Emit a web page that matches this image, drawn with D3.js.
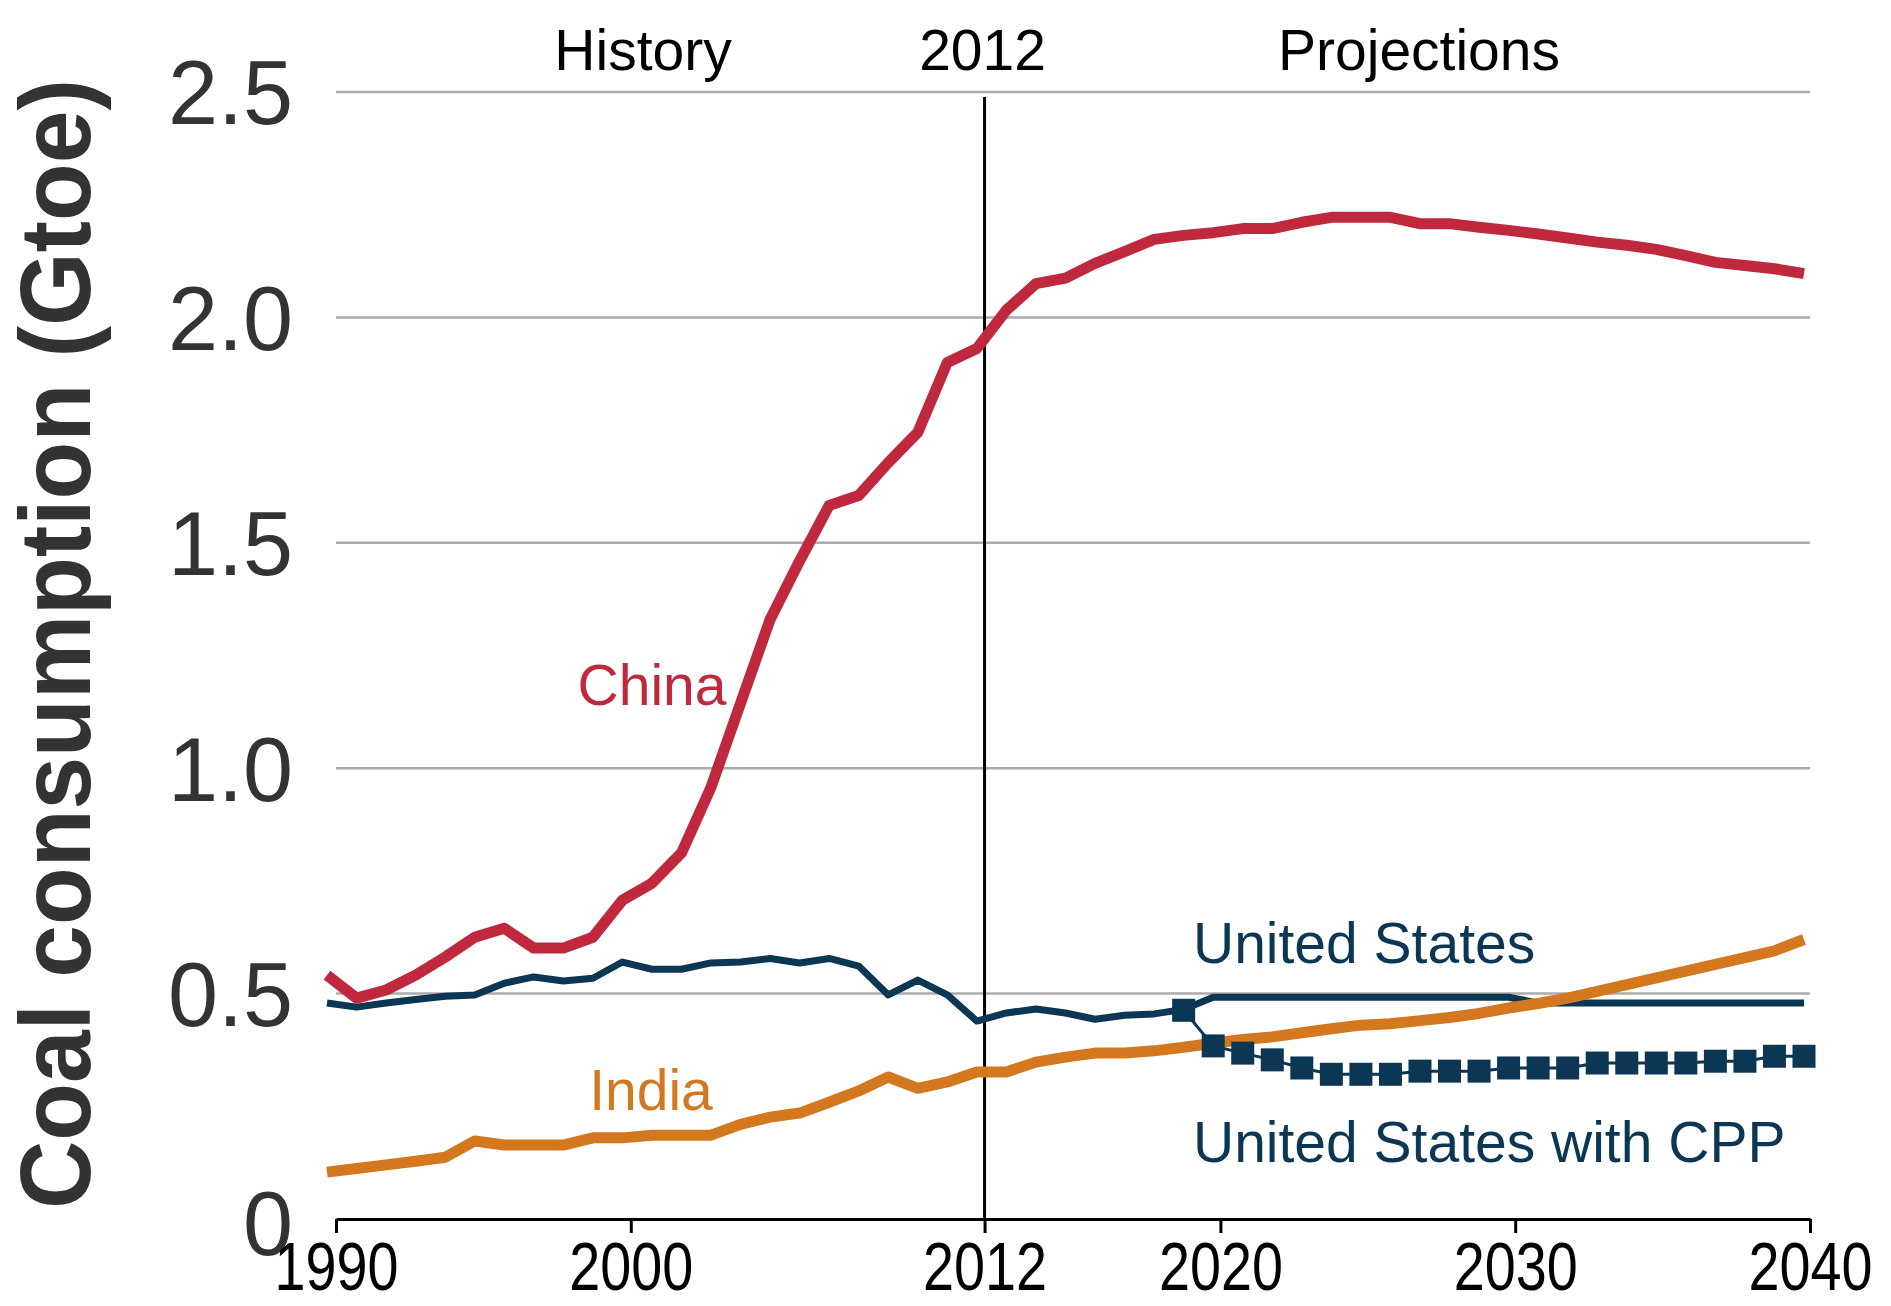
<!DOCTYPE html>
<html>
<head>
<meta charset="utf-8">
<script src="https://cdn.jsdelivr.net/npm/d3@7"></script>
<style>
  html, body { margin: 0; padding: 0; background: #fff; }
  svg { display: block; font-family: "Liberation Sans", Arial, sans-serif; }
</style>
</head>
<body>
<svg id="chart"></svg>
<script>
// Coal consumption (Gtoe)
const years = [1990, 1991, 1992, 1993, 1994, 1995, 1996, 1997, 1998, 1999,
  2000, 2001, 2002, 2003, 2004, 2005, 2006, 2007, 2008, 2009,
  2010, 2011, 2012, 2013, 2014, 2015, 2016, 2017, 2018, 2019,
  2020, 2021, 2022, 2023, 2024, 2025, 2026, 2027, 2028, 2029,
  2030, 2031, 2032, 2033, 2034, 2035, 2036, 2037, 2038, 2039, 2040];

const china = [0.541, 0.490, 0.508, 0.541, 0.581, 0.625, 0.645, 0.601, 0.601, 0.625,
  0.707, 0.745, 0.812, 0.958, 1.144, 1.330, 1.460, 1.583, 1.605, 1.678,
  1.745, 1.900, 1.931, 2.016, 2.075, 2.087, 2.120, 2.146, 2.173, 2.182,
  2.188, 2.197, 2.197, 2.211, 2.222, 2.222, 2.222, 2.208, 2.208, 2.200,
  2.193, 2.185, 2.176, 2.167, 2.160, 2.151, 2.137, 2.122, 2.115, 2.108, 2.097];

const unitedStates = [0.479, 0.470, 0.479, 0.487, 0.494, 0.497, 0.523, 0.537, 0.528, 0.534,
  0.570, 0.554, 0.554, 0.568, 0.570, 0.578, 0.568, 0.578, 0.561, 0.497,
  0.530, 0.497, 0.439, 0.457, 0.466, 0.457, 0.443, 0.452, 0.455, 0.465,
  0.492, 0.492, 0.492, 0.492, 0.492, 0.492, 0.492, 0.492, 0.492, 0.492,
  0.492, 0.479, 0.479, 0.479, 0.479, 0.479, 0.479, 0.479, 0.479, 0.479, 0.479];

const india = [0.104, 0.112, 0.120, 0.128, 0.137, 0.173, 0.164, 0.164, 0.164, 0.180,
  0.180, 0.186, 0.186, 0.186, 0.210, 0.226, 0.235, 0.259, 0.284, 0.315,
  0.290, 0.304, 0.326, 0.326, 0.348, 0.359, 0.368, 0.368, 0.373, 0.381,
  0.390, 0.398, 0.404, 0.413, 0.422, 0.430, 0.433, 0.440, 0.447, 0.456,
  0.468, 0.478, 0.490, 0.505, 0.520, 0.535, 0.550, 0.565, 0.580, 0.595, 0.620];

// US with Clean Power Plan, 2019-2040
const cppYears = [2019, 2020, 2021, 2022, 2023, 2024, 2025, 2026, 2027, 2028, 2029,
  2030, 2031, 2032, 2033, 2034, 2035, 2036, 2037, 2038, 2039, 2040];
const unitedStatesCpp = [0.463, 0.384, 0.368, 0.353, 0.335, 0.321, 0.321, 0.321, 0.328, 0.328, 0.328,
  0.335, 0.335, 0.335, 0.346, 0.346, 0.346, 0.346, 0.350, 0.350, 0.361, 0.361];

const yTicks = [0, 0.5, 1.0, 1.5, 2.0, 2.5];
const xTicks = [1990, 2000, 2012, 2020, 2030, 2040];

const width = 1891;
const height = 1306;

const colors = {
  china: '#c0293d',
  us: '#0b3654',
  india: '#d4781f'
};

const svg = d3.select('#chart')
  .attr('width', width)
  .attr('height', height);

// data points sit a few px left of the axis ticks in the original
const x = d3.scaleLinear().domain([1990, 2040]).range([327, 1804]);
const xAxisScale = d3.scaleLinear().domain([1990, 2040]).range([336, 1810]);
const y = d3.scaleLinear().domain([0, 2.5]).range([1219, 92]);

// Gridlines (not at zero, the axis sits there)
svg.append('g')
  .selectAll('line')
  .data(yTicks.filter(d => d > 0))
  .join('line')
  .attr('x1', xAxisScale(1990))
  .attr('x2', xAxisScale(2040))
  .attr('y1', d => y(d))
  .attr('y2', d => y(d))
  .attr('stroke', '#ababab')
  .attr('stroke-width', 2.5);

// Y tick labels
svg.append('g')
  .selectAll('text')
  .data(yTicks)
  .join('text')
  .attr('x', 293)
  .attr('y', d => y(d) + (d === 0 ? 4 : 0))
  .attr('dy', '0.36em')
  .attr('text-anchor', 'end')
  .attr('fill', '#333')
  .style('font-size', '90px')
  .text(d => d === 0 ? '0' : d3.format('.1f')(d));

// Y title
svg.append('text')
  .attr('transform', `translate(90,${644}) rotate(-90)`)
  .attr('text-anchor', 'middle')
  .attr('fill', '#333')
  .attr('textLength', 1130)
  .attr('lengthAdjust', 'spacingAndGlyphs')
  .style('font-size', '100px')
  .style('font-weight', 'bold')
  .text('Coal consumption (Gtoe)');

// 2012 divider
svg.append('line')
  .attr('x1', xAxisScale(2012))
  .attr('x2', xAxisScale(2012))
  .attr('y1', 97)
  .attr('y2', y(0))
  .attr('stroke', '#000')
  .attr('stroke-width', 3);

// Period labels
const periods = [
  { label: 'History', cx: 643 },
  { label: '2012', cx: xAxisScale(2012) - 2 },
  { label: 'Projections', cx: 1419 }
];
svg.append('g')
  .selectAll('text')
  .data(periods)
  .join('text')
  .attr('x', d => d.cx)
  .attr('y', 70)
  .attr('text-anchor', 'middle')
  .attr('fill', '#000')
  .style('font-size', '57px')
  .text(d => d.label);

// X axis
const xAxis = d3.axisBottom(xAxisScale)
  .tickValues(xTicks)
  .tickFormat(d3.format('d'))
  .tickSizeInner(14)
  .tickSizeOuter(0)
  .tickPadding(9);

const axisG = svg.append('g')
  .attr('transform', `translate(0,${y(0)})`)
  .call(xAxis);

axisG.select('.domain')
  .attr('stroke', '#000')
  .attr('stroke-width', 3);
axisG.selectAll('.tick line')
  .attr('stroke', '#000')
  .attr('stroke-width', 3);
// condensed tick labels, as in the original
axisG.selectAll('.tick text')
  .attr('fill', '#000')
  .attr('transform', 'scale(0.82,1)')
  .style('font-size', '68px')
  .style('font-family', '"Liberation Sans", Arial, sans-serif');

// Series lines
const line = d3.line()
  .x(d => x(d[0]))
  .y(d => y(d[1]));

const series = [
  { key: 'us', values: unitedStates, width: 7 },
  { key: 'china', values: china, width: 11 },
  { key: 'india', values: india, width: 11 }
];

svg.append('g')
  .selectAll('path')
  .data(series)
  .join('path')
  .attr('d', s => line(years.map((yr, i) => [yr, s.values[i]])))
  .attr('fill', 'none')
  .attr('stroke', s => colors[s.key])
  .attr('stroke-width', s => s.width)
  .attr('stroke-linejoin', 'round');

// CPP line with square markers
const cppPoints = cppYears.map((yr, i) => [yr, unitedStatesCpp[i]]);
const cppG = svg.append('g');
cppG.append('path')
  .attr('d', line(cppPoints))
  .attr('fill', 'none')
  .attr('stroke', colors.us)
  .attr('stroke-width', 3);

const markerSize = 23;
cppG.selectAll('rect')
  .data(cppPoints)
  .join('rect')
  .attr('x', d => x(d[0]) - markerSize / 2)
  .attr('y', d => y(d[1]) - markerSize / 2)
  .attr('width', markerSize)
  .attr('height', markerSize)
  .attr('fill', colors.us);

// Series labels
const labels = [
  { text: 'China', x: 652, y: 705, anchor: 'middle', color: colors.china },
  { text: 'India', x: 651, y: 1110, anchor: 'middle', color: colors.india },
  { text: 'United States', x: 1193, y: 963, anchor: 'start', color: colors.us },
  { text: 'United States with CPP', x: 1193, y: 1162, anchor: 'start', color: colors.us }
];

svg.append('g')
  .selectAll('text')
  .data(labels)
  .join('text')
  .attr('x', d => d.x)
  .attr('y', d => d.y)
  .attr('text-anchor', d => d.anchor)
  .attr('fill', d => d.color)
  .style('font-size', '57px')
  .text(d => d.text);
</script>
</body>
</html>
